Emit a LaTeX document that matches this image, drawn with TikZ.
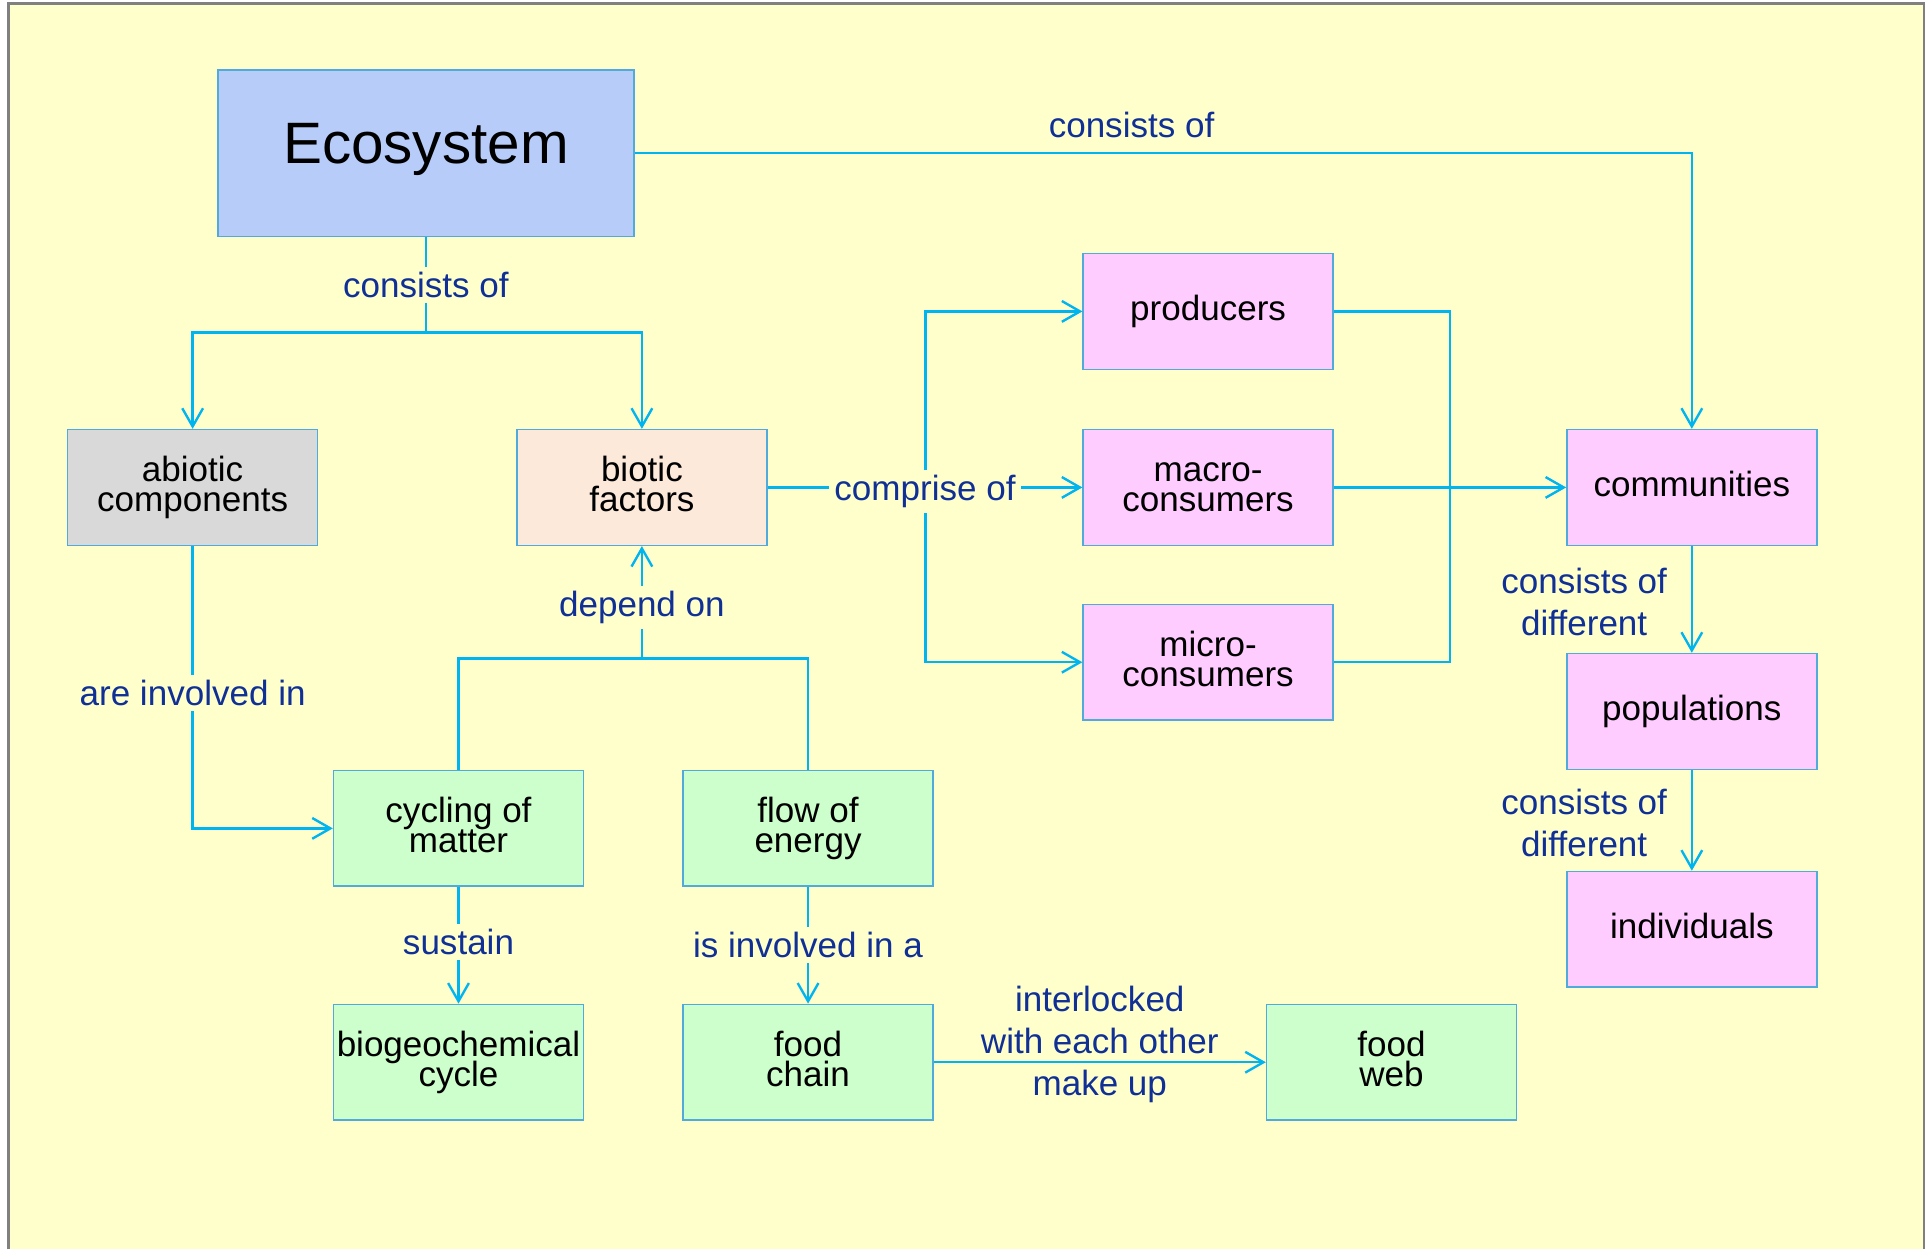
\documentclass[tikz,border=0pt]{standalone}
\usepackage{fontspec}
\setmainfont{Liberation Sans}
\usetikzlibrary{arrows.meta}
\definecolor{paper}{RGB}{255,255,204}
\definecolor{frameg}{RGB}{128,128,128}
\definecolor{wire}{RGB}{0,180,240}
\definecolor{edgeb}{RGB}{80,170,220}
\definecolor{linktext}{RGB}{16,48,150}
\definecolor{ecoblue}{RGB}{184,204,250}
\definecolor{abiogrey}{RGB}{217,217,217}
\definecolor{biopeach}{RGB}{252,233,218}
\definecolor{livepink}{RGB}{255,204,255}
\definecolor{cyclegreen}{RGB}{204,255,204}
\begin{document}
\begin{tikzpicture}[x=0.1mm, y=-0.1mm,
  box/.style={draw=edgeb, line width=0.35pt, minimum width=2.03cm, minimum height=0.94cm, inner sep=0pt, align=center, text height=6pt, text depth=1.7pt, font={\fontsize{8.1}{6.9}\selectfont\lineskiplimit=-20pt}},
  twoline/.style={box, text height=12.9pt},
  link/.style={draw=wire, line width=0.55pt},
  arr/.style={link, -{Straight Barb[length=4.2pt, width=4.8pt, line width=0.55pt]}},
  lbl/.style={text=linktext, font=\fontsize{8.1}{9.8}\selectfont, align=center, fill=paper, inner sep=1.2pt},
  nolbl/.style={lbl, fill=none}]
\useasboundingbox (0,0) rectangle (1568,1015);
\fill[white] (0,0) rectangle (1568,1015);
\fill[paper] (7,3) rectangle (1563,1015);
\draw[frameg, line width=0.6pt] (7,1015) -- (7,3) -- (1563,3) -- (1563,1015);

\node[box, fill=ecoblue, minimum width=3.38cm, minimum height=1.35cm, font=\fontsize{13.5}{16}\selectfont, text height=9.8pt, text depth=0.18cm] (eco) at (346,124.5){Ecosystem};
\node[twoline, fill=abiogrey] (abio) at (156.5,396){abiotic\\components};
\node[twoline, fill=biopeach] (bio) at (521.5,396){biotic\\factors};
\node[box, fill=livepink] (prod) at (981.5,253){producers};
\node[twoline, fill=livepink] (macro) at (981.5,396){macro-\\consumers};
\node[twoline, fill=livepink] (micro) at (981.5,538){micro-\\consumers};
\node[box, fill=livepink] (comm) at (1374.5,396){communities};
\node[box, fill=livepink] (pop) at (1374.5,578){populations};
\node[box, fill=livepink] (indiv) at (1374.5,755){individuals};
\node[twoline, fill=cyclegreen] (cyc) at (372.5,673){cycling of\\matter};
\node[twoline, fill=cyclegreen] (flow) at (656.5,673){flow of\\energy};
\node[twoline, fill=cyclegreen] (bgc) at (372.5,863){biogeochemical\\cycle};
\node[twoline, fill=cyclegreen] (chain) at (656.5,863){food\\chain};
\node[twoline, fill=cyclegreen] (web) at (1130.5,863){food\\web};

\coordinate (ecofork) at (346,270);
\coordinate (combr) at (752,396);
\coordinate (conjoin) at (1178,396);
\coordinate (depfork) at (521.5,535);

\draw[link] (eco) -- node[lbl]{consists of} (ecofork);
\draw[arr] (ecofork) -| (abio);
\draw[arr] (ecofork) -| (bio);
\draw[arr] (eco) -| node[nolbl, pos=0.235, above=0.07cm]{consists of} (comm);
\draw[arr] (combr) |- (prod);
\draw[arr] (combr) |- (micro);
\draw[arr] (bio) -- node[lbl, yshift=-0.035cm]{comprise of} (macro);
\draw[link] (prod) -| (conjoin) |- (micro);
\draw[arr] (macro) -- (comm);
\draw[arr] (comm) -- node[nolbl, left=0.15cm, yshift=-0.02cm]{consists of\\different} (pop);
\draw[arr] (pop) -- node[nolbl, left=0.15cm, yshift=-0.02cm]{consists of\\different} (indiv);
\draw[arr] (abio) |- node[lbl, pos=0.26]{are involved in} (cyc);
\draw[link] (cyc) |- (depfork);
\draw[link] (flow) |- (depfork);
\draw[arr] (depfork) -- node[lbl, yshift=-0.04cm]{depend on} (bio);
\draw[arr] (cyc) -- node[lbl, yshift=0.025cm]{sustain} (bgc);
\draw[arr] (flow) -- node[lbl]{is involved in a} (chain);
\draw[arr] (chain) -- node[nolbl, yshift=0.145cm]{interlocked\\with each other\\make up} (web);

\end{tikzpicture}
\end{document}
